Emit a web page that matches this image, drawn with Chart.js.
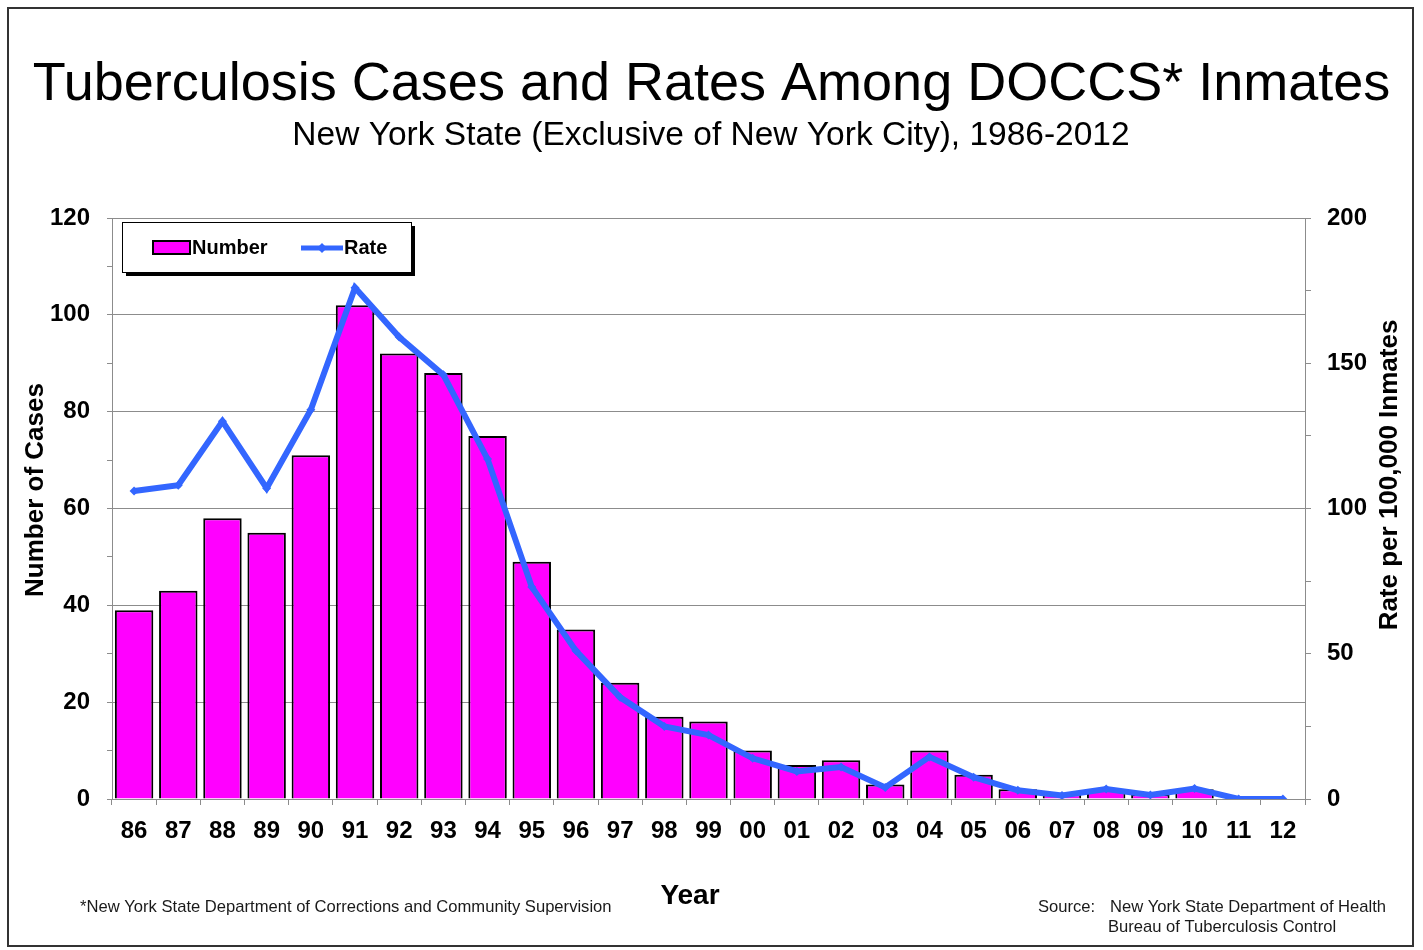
<!DOCTYPE html>
<html>
<head>
<meta charset="utf-8">
<script src="https://cdn.jsdelivr.net/npm/chart.js@4.4.1/dist/chart.umd.min.js"></script>
<style>
  html, body { margin: 0; padding: 0; background: #ffffff; }
  #wrap { width: 1423px; height: 950px; }
</style>
</head>
<body>
<div id="wrap"><canvas id="c" width="1423" height="950"></canvas></div>
<script>
// ---- data ----
const years = ['86','87','88','89','90','91','92','93','94','95','96','97','98','99','00','01','02','03','04','05','06','07','08','09','10','11','12'];
const caseCounts = [39, 43, 58, 55, 71, 102, 92, 88, 75, 49, 35, 24, 17, 16, 10, 7, 8, 3, 10, 5, 2, 1, 2, 1, 2, 0, 0];
const ratePer100k = [106, 108, 130, 107, 134, 176, 159, 146, 117, 73, 51, 35, 25, 22, 14, 9.5, 11, 4, 14.5, 7.5, 3, 1.2, 3.4, 1.4, 3.6, 0, 0];
const leftTicks = [0, 20, 40, 60, 80, 100, 120];
const rightTicks = [0, 50, 100, 150, 200];

const titleText = 'Tuberculosis Cases and Rates Among DOCCS* Inmates';
const subtitleText = 'New York State (Exclusive of New York City), 1986-2012';
const leftAxisTitle = 'Number of Cases';
const rightAxisTitle = 'Rate per 100,000 Inmates';
const xAxisTitle = 'Year';
const footnoteText = '*New York State Department of Corrections and Community Supervision';
const sourceLabel = 'Source:';
const sourceLines = ['New York State Department of Health', 'Bureau of Tuberculosis Control'];

const FONT = '"Liberation Sans", Arial, Helvetica, sans-serif';
const NARROW = '"Liberation Sans Narrow", "Arial Narrow", "Liberation Sans", Arial, sans-serif';
const MAGENTA = '#ff00ff';
const BLUE = '#3366ff';
const GRID = '#8c8c8c';

const decor = {
  id: 'decor',
  beforeDraw(chart) {
    const ctx = chart.ctx;
    ctx.save();
    ctx.fillStyle = '#ffffff';
    ctx.fillRect(0, 0, chart.width, chart.height);
    ctx.restore();
  },
  afterDraw(chart) {
    const ctx = chart.ctx;
    ctx.save();
    // outer frame
    ctx.strokeStyle = '#333333';
    ctx.lineWidth = 2;
    ctx.strokeRect(8, 8, 1405, 938);

    // titles
    ctx.fillStyle = '#000000';
    ctx.textAlign = 'center';
    ctx.textBaseline = 'middle';
    ctx.font = '54px ' + FONT;
    ctx.fillText(titleText, 711.5, 85);
    ctx.font = '33.5px ' + FONT;
    ctx.fillText(subtitleText, 711, 136);

    // axis titles
    ctx.font = 'bold 26px ' + FONT;
    ctx.save();
    ctx.translate(36, 490);
    ctx.rotate(-Math.PI / 2);
    ctx.fillText(leftAxisTitle, 0, 0);
    ctx.restore();
    ctx.save();
    ctx.translate(1390, 475);
    ctx.rotate(-Math.PI / 2);
    ctx.fillText(rightAxisTitle, 0, 0);
    ctx.restore();
    ctx.font = 'bold 28px ' + FONT;
    ctx.fillText(xAxisTitle, 690, 896);

    // footnotes
    ctx.textAlign = 'left';
    ctx.font = '16.6px ' + NARROW;
    ctx.fillStyle = '#1a1a1a';
    ctx.fillText(footnoteText, 80, 907);
    ctx.fillText(sourceLabel, 1038, 907);
    ctx.fillText(sourceLines[0], 1110, 907);
    ctx.fillText(sourceLines[1], 1108, 927);

    // legend
    const lx = 122, ly = 222, lw = 289, lh = 50;
    ctx.fillStyle = '#000000';
    ctx.fillRect(lx + 4, ly + 4, lw, lh);
    ctx.fillStyle = '#ffffff';
    ctx.fillRect(lx, ly, lw, lh);
    ctx.strokeStyle = '#000000';
    ctx.lineWidth = 1;
    ctx.strokeRect(lx + 0.5, ly + 0.5, lw, lh);
    const ds = chart.data.datasets;
    // bar swatch
    ctx.fillStyle = MAGENTA;
    ctx.fillRect(153, 241, 37, 13);
    ctx.lineWidth = 2;
    ctx.strokeRect(153, 241, 37, 13);
    ctx.fillStyle = '#000000';
    ctx.font = 'bold 20px ' + FONT;
    ctx.textBaseline = 'middle';
    ctx.fillText(ds[0].label, 192, 248);
    // line swatch
    ctx.strokeStyle = BLUE;
    ctx.lineWidth = 5;
    ctx.beginPath();
    ctx.moveTo(301, 248);
    ctx.lineTo(343, 248);
    ctx.stroke();
    ctx.fillStyle = BLUE;
    ctx.beginPath();
    ctx.moveTo(322, 243); ctx.lineTo(327, 248); ctx.lineTo(322, 253); ctx.lineTo(317, 248); ctx.closePath();
    ctx.fill();
    ctx.fillStyle = '#000000';
    ctx.fillText(ds[1].label, 344, 248);
    ctx.restore();
  }
};

new Chart(document.getElementById('c'), {
  type: 'bar',
  data: {
    labels: years,
    datasets: [
      {
        type: 'bar',
        label: 'Number',
        data: caseCounts,
        yAxisID: 'y',
        backgroundColor: MAGENTA,
        borderColor: '#000000',
        borderWidth: 2,
        borderSkipped: 'bottom',
        barPercentage: 0.87,
        categoryPercentage: 1.0,
        order: 2
      },
      {
        type: 'line',
        label: 'Rate',
        data: ratePer100k,
        yAxisID: 'y1',
        borderColor: BLUE,
        backgroundColor: BLUE,
        borderWidth: 6,
        pointStyle: 'rectRot',
        pointRadius: 4.5,
        pointBorderWidth: 0,
        tension: 0,
        order: 1
      }
    ]
  },
  options: {
    responsive: false,
    animation: false,
    devicePixelRatio: 1,
    layout: { padding: { top: 218, bottom: 91, left: 0, right: 0 } },
    plugins: {
      legend: { display: false },
      title: { display: false },
      tooltip: { enabled: false }
    },
    scales: {
      x: {
        offset: true,
        grid: { display: true, drawOnChartArea: false, offset: true, tickLength: 6, color: GRID },
        border: { display: true, color: GRID, width: 1 },
        ticks: { color: '#000000', font: { family: FONT, size: 24, weight: 'bold' }, padding: 12, maxRotation: 0, autoSkip: false },
        afterFit(s) { s.height = 60; }
      },
      y: {
        position: 'left',
        min: 0, max: 120,
        afterBuildTicks(s) { s.ticks = []; for (let v = 0; v <= 120; v += 10) s.ticks.push({ value: v }); },
        grid: {
          color: (c) => (c.tick && c.tick.value % 20 === 0) ? GRID : 'rgba(0,0,0,0)',
          tickColor: GRID,
          tickLength: 5,
          drawOnChartArea: true
        },
        border: { display: true, color: GRID, width: 1 },
        ticks: {
          color: '#000000',
          font: { family: FONT, size: 24, weight: 'bold' },
          padding: 17,
          callback: (v) => leftTicks.includes(v) ? String(v) : ''
        },
        afterFit(s) { s.width = 112; }
      },
      y1: {
        position: 'right',
        min: 0, max: 200,
        afterBuildTicks(s) { s.ticks = []; for (let v = 0; v <= 200; v += 25) s.ticks.push({ value: v }); },
        grid: { drawOnChartArea: false, color: GRID, tickLength: 6 },
        border: { display: true, color: GRID, width: 1 },
        ticks: {
          color: '#000000',
          font: { family: FONT, size: 24, weight: 'bold' },
          padding: 16,
          callback: (v) => rightTicks.includes(v) ? String(v) : ''
        },
        afterFit(s) { s.width = 118; }
      }
    }
  },
  plugins: [decor]
});
</script>
</body>
</html>
